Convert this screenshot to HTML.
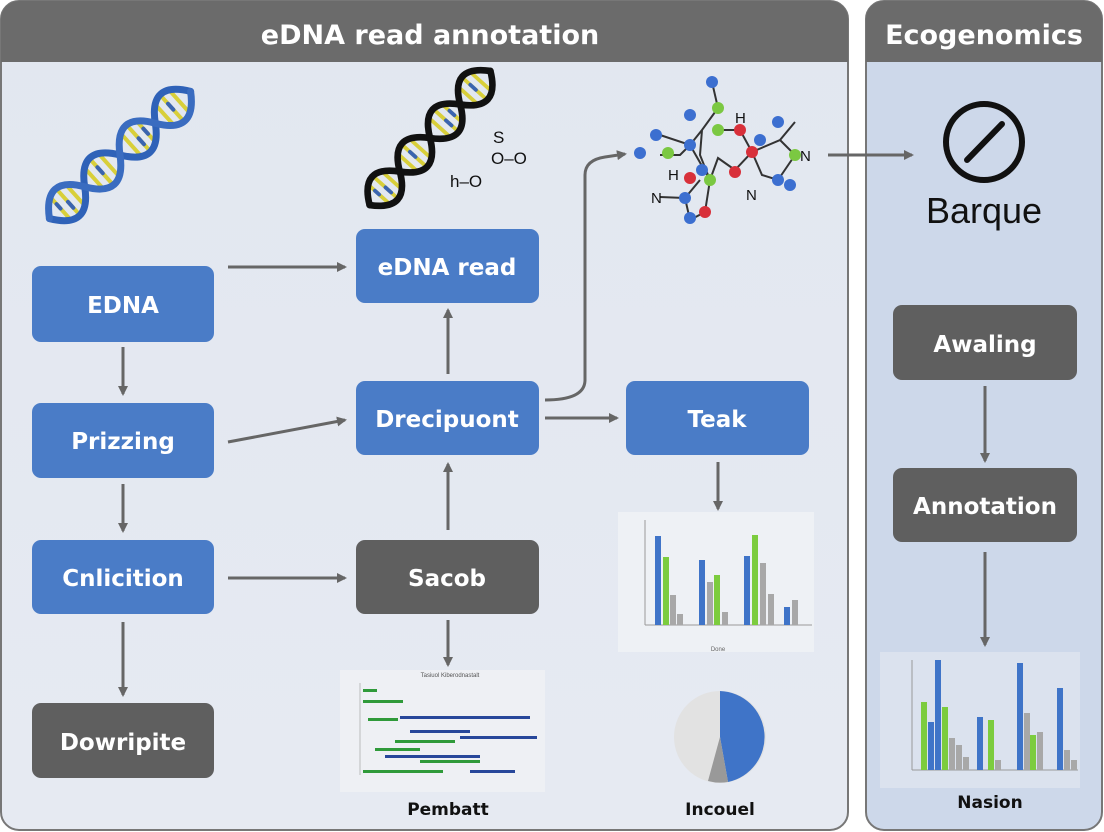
<!DOCTYPE html>
<html><head><meta charset="utf-8"><style>
html,body{margin:0;padding:0;background:#fff;}
svg{display:block;font-family:"Liberation Sans",sans-serif;}
.bt{font-family:"DejaVu Sans","Liberation Sans",sans-serif;font-weight:bold;font-size:23px;fill:#fff;text-anchor:middle;}
</style></head><body>
<svg width="1104" height="832" viewBox="0 0 1104 832" xmlns="http://www.w3.org/2000/svg">
<defs>
<marker id="a" markerWidth="10" markerHeight="10" refX="8" refY="5" orient="auto" markerUnits="userSpaceOnUse"><path d="M0,0 L10,5 L0,10 z" fill="#666"/></marker>
<linearGradient id="lp" x1="0" y1="0" x2="0" y2="1"><stop offset="0" stop-color="#e2e7f0"/><stop offset="1" stop-color="#e6eaf2"/></linearGradient>
<g id="rungs" stroke-width="4">
<g stroke="#d8cf3a">
<line x1="-80" y1="-15" x2="-80" y2="15"/><line x1="-70" y1="-18" x2="-70" y2="18"/><line x1="-60" y1="-13" x2="-60" y2="13"/>
<line x1="-35" y1="-13" x2="-35" y2="13"/><line x1="-25" y1="-18" x2="-25" y2="18"/><line x1="-15" y1="-15" x2="-15" y2="15"/>
<line x1="15" y1="-15" x2="15" y2="15"/><line x1="25" y1="-18" x2="25" y2="18"/><line x1="35" y1="-13" x2="35" y2="13"/>
<line x1="60" y1="-13" x2="60" y2="13"/><line x1="70" y1="-18" x2="70" y2="18"/><line x1="80" y1="-15" x2="80" y2="15"/>
</g>
<g stroke="#3a64b0">
<line x1="-70" y1="0" x2="-70" y2="8"/><line x1="-25" y1="-6" x2="-25" y2="2"/><line x1="25" y1="0" x2="25" y2="8"/><line x1="70" y1="-6" x2="70" y2="2"/><line x1="-80" y1="-6" x2="-80" y2="0"/><line x1="35" y1="-4" x2="35" y2="3"/>
</g>
</g>
</defs>
<rect width="1104" height="832" fill="#fff"/>
<rect x="1" y="1" width="847" height="829" rx="18" fill="url(#lp)" stroke="#777" stroke-width="2"/>
<path d="M1,62 V19 A18,18 0 0 1 19,1 H830 A18,18 0 0 1 848,19 V62 Z" fill="#6b6b6b"/>
<text x="430" y="44" font-family="DejaVu Sans,Liberation Sans,sans-serif" font-weight="bold" font-size="27" fill="#fff" text-anchor="middle">eDNA read annotation</text>
<rect x="866" y="1" width="236" height="829" rx="18" fill="#cdd8ea" stroke="#777" stroke-width="2"/>
<path d="M866,62 V19 A18,18 0 0 1 884,1 H1084 A18,18 0 0 1 1102,19 V62 Z" fill="#6b6b6b"/>
<text x="984" y="44" font-family="DejaVu Sans,Liberation Sans,sans-serif" font-weight="bold" font-size="27" fill="#fff" text-anchor="middle">Ecogenomics</text>

<!-- DNA left -->
<g transform="translate(120,155) rotate(-42)" fill="none" stroke-linecap="round">
<use href="#rungs"/>
<path d="M-95,0 C-79,24 -63,24 -47.5,0 C-32,-24 -16,-24 0,0 C16,24 32,24 47.5,0 C63,-24 79,-24 95,0" stroke="#2f62b8" stroke-width="7"/>
<path d="M-95,0 C-79,-24 -63,-24 -47.5,0 C-32,24 -16,24 0,0 C16,-24 32,-24 47.5,0 C63,24 79,24 95,0" stroke="#3a6cc0" stroke-width="7"/>
</g>
<!-- DNA middle -->
<g transform="translate(430,138) rotate(-48) scale(0.95)" fill="none" stroke-linecap="round">
<use href="#rungs"/>
<path d="M-95,0 C-79,24 -63,24 -47.5,0 C-32,-24 -16,-24 0,0 C16,24 32,24 47.5,0 C63,-24 79,-24 95,0" stroke="#111" stroke-width="7"/>
<path d="M-95,0 C-79,-24 -63,-24 -47.5,0 C-32,24 -16,24 0,0 C16,-24 32,-24 47.5,0 C63,24 79,24 95,0" stroke="#111" stroke-width="7"/>
</g>
<g font-size="17" fill="#111"><text x="493" y="143">S</text><text x="491" y="164">O–O</text><text x="450" y="187">h–O</text></g>

<!-- molecule -->
<g stroke="#333" stroke-width="2" fill="none">
<path d="M660,135 L690,145 L702,130 L718,108 L712,82 M690,145 L710,180 L718,158 L735,170 L752,152 L780,140 L795,122 M752,152 L762,175 L778,180 L795,155 L780,140 M718,130 L740,130 L752,152 M702,130 L700,155 L710,180 L705,212 L690,220 L685,198 L700,180 M660,155 L680,155 L690,145 M685,198 L660,197"/>
</g>
<g>
<circle cx="712" cy="82" r="6" fill="#3c6fd0"/><circle cx="690" cy="115" r="6" fill="#3c6fd0"/>
<circle cx="718" cy="108" r="6" fill="#7bc842"/><circle cx="718" cy="130" r="6" fill="#7bc842"/>
<circle cx="740" cy="130" r="6" fill="#d8303a"/><circle cx="752" cy="152" r="6" fill="#d8303a"/>
<circle cx="778" cy="122" r="6" fill="#3c6fd0"/><circle cx="795" cy="155" r="6" fill="#7bc842"/>
<circle cx="778" cy="180" r="6" fill="#3c6fd0"/><circle cx="790" cy="185" r="6" fill="#3c6fd0"/>
<circle cx="656" cy="135" r="6" fill="#3c6fd0"/><circle cx="640" cy="153" r="6" fill="#3c6fd0"/>
<circle cx="668" cy="153" r="6" fill="#7bc842"/><circle cx="690" cy="145" r="6" fill="#3c6fd0"/>
<circle cx="702" cy="170" r="6" fill="#3c6fd0"/><circle cx="710" cy="180" r="6" fill="#7bc842"/>
<circle cx="735" cy="172" r="6" fill="#d8303a"/><circle cx="690" cy="178" r="6" fill="#d8303a"/>
<circle cx="685" cy="198" r="6" fill="#3c6fd0"/><circle cx="705" cy="212" r="6" fill="#d8303a"/>
<circle cx="690" cy="218" r="6" fill="#3c6fd0"/><circle cx="760" cy="140" r="6" fill="#3c6fd0"/>
</g>
<g font-size="15" fill="#111"><text x="735" y="123">H</text><text x="668" y="180">H</text><text x="800" y="161">N</text><text x="746" y="200">N</text><text x="651" y="203">N</text></g>

<circle cx="984" cy="142" r="38" fill="none" stroke="#111" stroke-width="6"/>
<line x1="967" y1="160" x2="1002" y2="124" stroke="#111" stroke-width="6" stroke-linecap="round"/>
<text x="984" y="223" font-size="36" fill="#111" text-anchor="middle">Barque</text>

<g stroke="#666" stroke-width="3" fill="none" marker-end="url(#a)">
<line x1="228" y1="267" x2="345" y2="267"/>
<line x1="228" y1="442" x2="345" y2="420"/>
<line x1="228" y1="578" x2="345" y2="578"/>
<line x1="123" y1="347" x2="123" y2="394"/>
<line x1="123" y1="484" x2="123" y2="531"/>
<line x1="123" y1="622" x2="123" y2="695"/>
<line x1="448" y1="530" x2="448" y2="464"/>
<line x1="448" y1="374" x2="448" y2="310"/>
<line x1="545" y1="418" x2="617" y2="418"/>
<path d="M545,400 Q585,400 585,380 V175 Q585,160 605,157 L625,154"/>
<line x1="828" y1="155" x2="912" y2="155"/>
<line x1="718" y1="462" x2="718" y2="509"/>
<line x1="448" y1="620" x2="448" y2="665"/>
<line x1="985" y1="386" x2="985" y2="461"/>
<line x1="985" y1="552" x2="985" y2="645"/>
</g>

<g fill="#4a7cc7">
<rect x="32" y="266" width="182" height="76" rx="9"/>
<rect x="32" y="403" width="182" height="75" rx="9"/>
<rect x="32" y="540" width="182" height="74" rx="9"/>
<rect x="356" y="229" width="183" height="74" rx="9"/>
<rect x="356" y="381" width="183" height="74" rx="9"/>
<rect x="626" y="381" width="183" height="74" rx="9"/>
</g>
<g fill="#5f5f5f">
<rect x="32" y="703" width="182" height="75" rx="9"/>
<rect x="356" y="540" width="183" height="74" rx="9"/>
<rect x="893" y="305" width="184" height="75" rx="9"/>
<rect x="893" y="468" width="184" height="74" rx="9"/>
</g>
<text class="bt" x="123" y="313">EDNA</text>
<text class="bt" x="123" y="449">Prizzing</text>
<text class="bt" x="123" y="586">Cnlicition</text>
<text class="bt" x="123" y="750">Dowripite</text>
<text class="bt" x="447" y="275">eDNA read</text>
<text class="bt" x="447" y="427">Drecipuont</text>
<text class="bt" x="447" y="586">Sacob</text>
<text class="bt" x="717" y="427">Teak</text>
<text class="bt" x="985" y="352">Awaling</text>
<text class="bt" x="985" y="514">Annotation</text>

<g>
<rect x="618" y="512" width="196" height="140" fill="#eef1f5"/>
<line x1="645" y1="520" x2="645" y2="625" stroke="#999"/><line x1="645" y1="625" x2="812" y2="625" stroke="#999"/>
<g fill="#3f74c8"><rect x="655" y="536" width="6" height="89"/><rect x="699" y="560" width="6" height="65"/><rect x="744" y="556" width="6" height="69"/><rect x="784" y="607" width="6" height="18"/></g>
<g fill="#7ccc3e"><rect x="663" y="557" width="6" height="68"/><rect x="714" y="575" width="6" height="50"/><rect x="752" y="535" width="6" height="90"/></g>
<g fill="#a8a8a8"><rect x="670" y="595" width="6" height="30"/><rect x="707" y="582" width="6" height="43"/><rect x="760" y="563" width="6" height="62"/><rect x="768" y="594" width="6" height="31"/><rect x="792" y="600" width="6" height="25"/><rect x="677" y="614" width="6" height="11"/><rect x="722" y="612" width="6" height="13"/></g>
<text x="718" y="651" font-size="6" fill="#666" text-anchor="middle">Done</text>
</g>
<g>
<rect x="340" y="670" width="205" height="122" fill="#eef0f4"/>
<text x="450" y="677" font-size="6" fill="#555" text-anchor="middle">Tasiuol Kiberodnastalt</text>
<line x1="360" y1="683" x2="360" y2="775" stroke="#bbb"/>
<g fill="#2f9a3a"><rect x="363" y="689" width="14" height="3"/><rect x="363" y="700" width="40" height="3"/><rect x="368" y="718" width="30" height="3"/><rect x="375" y="748" width="45" height="3"/><rect x="363" y="770" width="80" height="3"/><rect x="395" y="740" width="60" height="3"/><rect x="420" y="760" width="60" height="3"/></g>
<g fill="#27479a"><rect x="400" y="716" width="130" height="3"/><rect x="410" y="730" width="60" height="3"/><rect x="460" y="736" width="77" height="3"/><rect x="385" y="755" width="95" height="3"/><rect x="470" y="770" width="45" height="3"/></g>
<text x="448" y="815" font-family="DejaVu Sans,Liberation Sans,sans-serif" font-weight="bold" font-size="17" fill="#111" text-anchor="middle">Pembatt</text>
</g>
<g>
<circle cx="720" cy="737" r="46" fill="#e2e2e2"/>
<path d="M720,737 L720,691 A46,46 0 0 1 728,782 Z" fill="#3f74c8"/>
<path d="M720,737 L728,782 A46,46 0 0 1 708,781 Z" fill="#999"/>
<text x="720" y="815" font-family="DejaVu Sans,Liberation Sans,sans-serif" font-weight="bold" font-size="17" fill="#111" text-anchor="middle">Incouel</text>
</g>
<g>
<rect x="880" y="652" width="200" height="136" fill="#dbe2ee"/>
<line x1="912" y1="660" x2="912" y2="770" stroke="#999"/><line x1="912" y1="770" x2="1078" y2="770" stroke="#999"/>
<g fill="#3f74c8"><rect x="928" y="722" width="6" height="48"/><rect x="935" y="660" width="6" height="110"/><rect x="977" y="717" width="6" height="53"/><rect x="1017" y="663" width="6" height="107"/><rect x="1057" y="688" width="6" height="82"/></g>
<g fill="#7ccc3e"><rect x="921" y="702" width="6" height="68"/><rect x="942" y="707" width="6" height="63"/><rect x="988" y="720" width="6" height="50"/><rect x="1030" y="735" width="6" height="35"/></g>
<g fill="#a8a8a8"><rect x="949" y="738" width="6" height="32"/><rect x="956" y="745" width="6" height="25"/><rect x="963" y="757" width="6" height="13"/><rect x="995" y="760" width="6" height="10"/><rect x="1024" y="713" width="6" height="57"/><rect x="1037" y="732" width="6" height="38"/><rect x="1064" y="750" width="6" height="20"/><rect x="1071" y="760" width="6" height="10"/></g>
<text x="990" y="808" font-family="DejaVu Sans,Liberation Sans,sans-serif" font-weight="bold" font-size="17" fill="#111" text-anchor="middle">Nasion</text>
</g>
</svg>
</body></html>
